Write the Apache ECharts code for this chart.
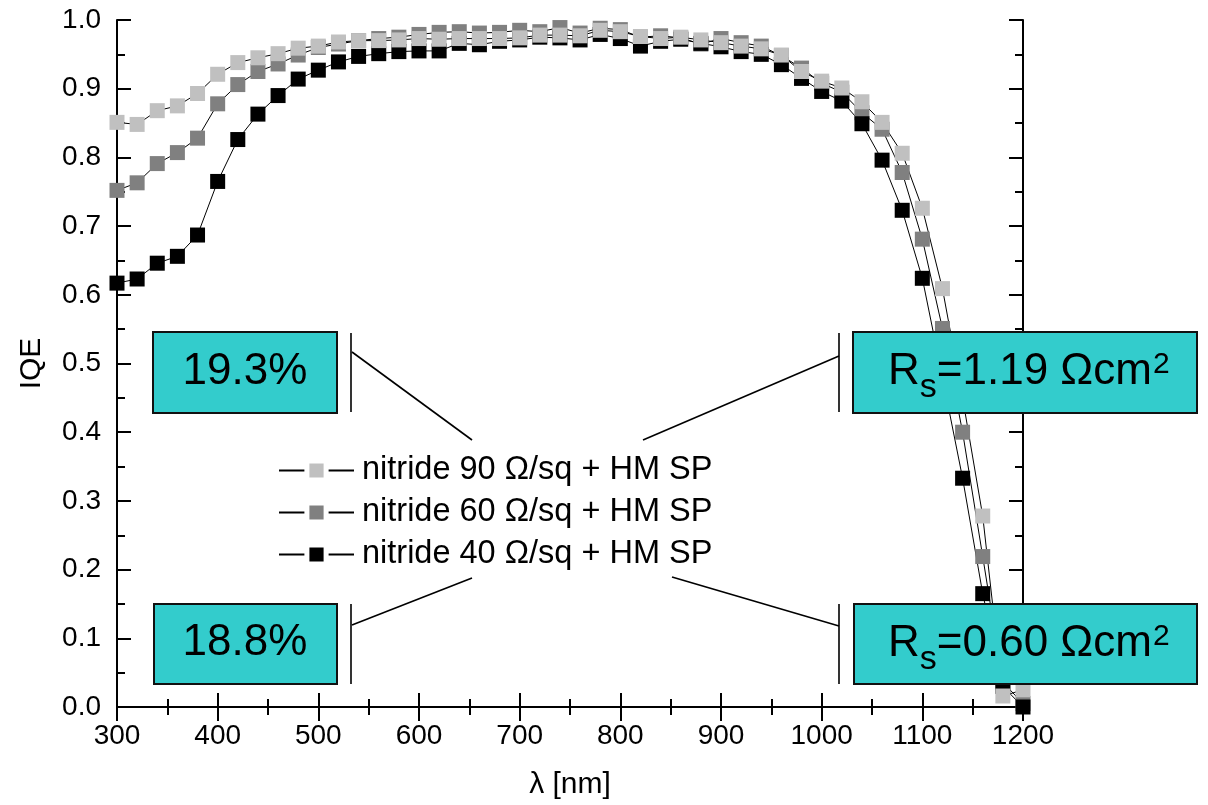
<!DOCTYPE html>
<html>
<head>
<meta charset="utf-8" />
<title>IQE vs wavelength</title>
<script src="https://cdn.jsdelivr.net/npm/echarts@6/dist/echarts.min.js"></script>
</head>
<body style="margin:0">
<div id="main" style="width:1208px;height:805px"></div>
<script>
// wavelength in nm
var wavelength = [300, 320, 340, 360, 380, 400, 420, 440, 460, 480, 500, 520, 540, 560, 580, 600,
  620, 640, 660, 680, 700, 720, 740, 760, 780, 800, 820, 840, 860, 880, 900, 920, 940, 960,
  980, 1000, 1020, 1040, 1060, 1080, 1100, 1120, 1140, 1160, 1180, 1200];

// IQE, nitride 90 ohm/sq
var iqe90 = [0.851, 0.848, 0.868, 0.875, 0.893, 0.921, 0.938, 0.945, 0.951, 0.959, 0.962, 0.968,
  0.970, 0.970, 0.971, 0.973, 0.972, 0.973, 0.973, 0.973, 0.974, 0.978, 0.978, 0.977, 0.985,
  0.983, 0.976, 0.973, 0.975, 0.971, 0.967, 0.962, 0.958, 0.949, 0.925, 0.911, 0.901, 0.881,
  0.851, 0.806, 0.726, 0.609, 0.450, 0.278, 0.016, 0.025];
// IQE, nitride 60 ohm/sq
var iqe60 = [0.752, 0.763, 0.791, 0.807, 0.828, 0.878, 0.906, 0.925, 0.936, 0.949, 0.960, 0.965,
  0.970, 0.973, 0.975, 0.979, 0.982, 0.983, 0.981, 0.982, 0.985, 0.983, 0.989, 0.981, 0.988,
  0.986, 0.975, 0.977, 0.974, 0.965, 0.973, 0.967, 0.962, 0.948, 0.930, 0.908, 0.895, 0.865,
  0.841, 0.778, 0.681, 0.551, 0.400, 0.219, 0.036, 0.005];
// IQE, nitride 40 ohm/sq
var iqe40 = [0.617, 0.623, 0.646, 0.656, 0.687, 0.765, 0.826, 0.863, 0.890, 0.914, 0.927, 0.939,
  0.947, 0.951, 0.954, 0.955, 0.955, 0.966, 0.964, 0.969, 0.971, 0.975, 0.974, 0.971, 0.979,
  0.973, 0.962, 0.969, 0.972, 0.966, 0.961, 0.954, 0.950, 0.935, 0.915, 0.896, 0.882, 0.849,
  0.796, 0.723, 0.624, 0.480, 0.333, 0.165, 0.030, 0.000];

var names = ['nitride 90 \u03A9/sq + HM SP', 'nitride 60 \u03A9/sq + HM SP', 'nitride 40 \u03A9/sq + HM SP'];
var effLabels = ['19.3%', '18.8%'];
var rsLabels = ['1.19', '0.60'];

var FONT = '"Liberation Sans", Arial, sans-serif';

var chartDom = document.getElementById('main');
var myChart = echarts.init(chartDom);

function pairs(ys) {
  return wavelength.map(function (w, i) { return [w, ys[i]]; });
}

var measureCtx = document.createElement('canvas').getContext('2d');
function textWidth(txt, size) {
  measureCtx.font = size + 'px "Liberation Sans", Arial';
  return measureCtx.measureText(txt).width;
}

function txt(x, y, s, size, align) {
  return {
    type: 'text', x: x, y: y, z: 110,
    style: {
      text: s, fontSize: size, fontFamily: FONT, fill: '#000',
      align: align || 'left', textAlign: align || 'left',
      verticalAlign: 'middle', textVerticalAlign: 'middle'
    }
  };
}

function box(x, y, w, h) {
  return {
    type: 'rect', z: 100,
    shape: { x: x, y: y, width: w, height: h },
    style: { fill: '#33CCCC', stroke: '#111', lineWidth: 2 }
  };
}

function seg(x1, y1, x2, y2) {
  return {
    type: 'line', z: 100,
    shape: { x1: x1, y1: y1, x2: x2, y2: y2 },
    style: { stroke: '#000', lineWidth: 1.6 }
  };
}

function rsText(x, top, val) {
  var wR = textWidth('R', 44);
  var wS = textWidth('s', 34);
  var main = '=' + val + ' \u03A9cm';
  var wM = textWidth(main, 44);
  return [
    txt(x, top + 39.5, 'R', 44),
    txt(x + wR, top + 55.5, 's', 34),
    txt(x + wR + wS, top + 39.5, main, 44),
    txt(x + wR + wS + wM + 1, top + 32.5, '2', 30)
  ];
}

var graphics = [
  box(153, 332, 184, 81), box(853, 332, 344, 81),
  box(154, 604, 183, 80), box(854, 604, 343, 80),
  seg(351, 333, 351, 412), seg(839, 333, 839, 412),
  seg(351, 604, 351, 684), seg(839, 604, 839, 684),
  seg(352, 352, 472, 440), seg(839, 356, 643, 440),
  seg(352, 625, 472, 578), seg(839, 626, 672, 577),
  txt(245, 371.5, effLabels[0], 44, 'center'),
  txt(245, 643, effLabels[1], 44, 'center')
].concat(rsText(888, 332, rsLabels[0]), rsText(888, 604, rsLabels[1]));

var axisCommon = {
  type: 'value',
  axisLine: { show: true, lineStyle: { color: '#000', width: 2 } },
  axisTick: { show: true, inside: true, length: 14, lineStyle: { color: '#000', width: 2 } },
  minorTick: { show: true, splitNumber: 2, length: 8, lineStyle: { color: '#000', width: 2 } },
  splitLine: { show: false },
  minorSplitLine: { show: false }
};

function axis(extra) {
  return Object.assign({}, axisCommon, extra);
}

var option = {
  animation: false,
  backgroundColor: '#fff',
  textStyle: { fontFamily: FONT },
  grid: { left: 117, right: 185, top: 20, bottom: 97, containLabel: false },
  xAxis: [
    axis({
      min: 300, max: 1200, interval: 100, position: 'bottom',
      name: '\u03BB [nm]', nameLocation: 'middle', nameGap: 63,
      nameTextStyle: { fontSize: 30, color: '#000', fontFamily: FONT },
      axisLabel: {
        fontSize: 28, color: '#000', margin: 15, fontFamily: FONT,
        formatter: function (v) { return String(v); }
      }
    }),
    axis({
      min: 300, max: 1200, interval: 100, position: 'top',
      axisLabel: { show: false }
    })
  ],
  yAxis: [
    axis({
      min: 0, max: 1, interval: 0.1, position: 'left',
      name: 'IQE', nameLocation: 'middle', nameGap: 70,
      nameTextStyle: { fontSize: 30, color: '#000', fontFamily: FONT },
      axisLabel: {
        fontSize: 28, color: '#000', margin: 16, fontFamily: FONT,
        formatter: function (v) { return v.toFixed(1); }
      }
    }),
    axis({
      min: 0, max: 1, interval: 0.1, position: 'right',
      axisLabel: { show: false }
    })
  ],
  legend: {
    data: names,
    orient: 'vertical',
    left: 273,
    top: 449,
    itemWidth: 75,
    itemHeight: 24,
    itemGap: 9,
    itemStyle: { borderColor: '#fff', borderWidth: 5 },
    textStyle: { fontSize: 32.5, color: '#000', fontFamily: FONT, lineHeight: 33, padding: [0, 0, 0, 3] }
  },
  series: [
    {
      name: names[1], type: 'line', data: pairs(iqe60),
      symbol: 'rect', symbolSize: 15, showAllSymbol: true,
      lineStyle: { color: '#000', width: 1 },
      itemStyle: { color: '#808080' }
    },
    {
      name: names[2], type: 'line', data: pairs(iqe40),
      symbol: 'rect', symbolSize: 15, showAllSymbol: true,
      lineStyle: { color: '#000', width: 1 },
      itemStyle: { color: '#000' }
    },
    {
      name: names[0], type: 'line', data: pairs(iqe90),
      symbol: 'rect', symbolSize: 15, showAllSymbol: true,
      lineStyle: { color: '#000', width: 1 },
      itemStyle: { color: '#c0c0c0' }
    }
  ],
  graphic: graphics
};

myChart.setOption(option);
</script>
</body>
</html>
